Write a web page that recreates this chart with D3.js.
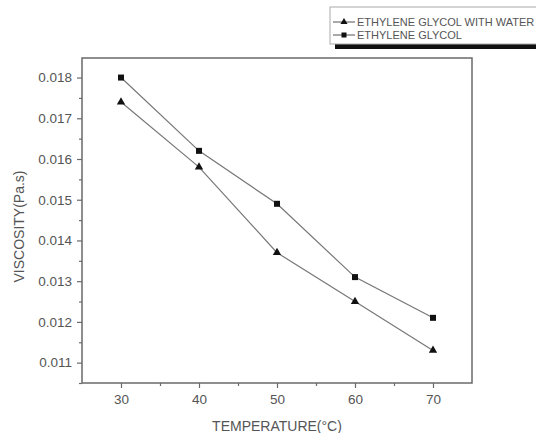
<!DOCTYPE html>
<html>
<head>
<meta charset="utf-8">
<script src="https://cdn.jsdelivr.net/npm/d3@7"></script>
<style>
  body { margin: 0; background: #fff; }
  text { font-family: "Liberation Sans", Arial, sans-serif; }
</style>
</head>
<body>
<div id="chart"></div>
<script>
const temperatures = [30, 40, 50, 60, 70];
const glycolWater = [0.0174, 0.0158, 0.0137, 0.0125, 0.0113];
const glycol = [0.0180, 0.0162, 0.0149, 0.0131, 0.0121];
const xTicks = [30, 40, 50, 60, 70];
const yTicks = [0.011, 0.012, 0.013, 0.014, 0.015, 0.016, 0.017, 0.018];
const seriesNames = ['ETHYLENE GLYCOL WITH WATER', 'ETHYLENE GLYCOL'];

const W = 536, H = 433;
const margin = { top: 58, right: 64, bottom: 50, left: 82 };
const width = W - margin.left - margin.right;
const height = H - margin.top - margin.bottom;

const root = d3.select('#chart')
  .append('svg')
  .attr('width', W)
  .attr('height', H);

const svg = root.append('g')
  .attr('transform', `translate(${margin.left},${margin.top})`);

const x = d3.scaleLinear().domain([25, 75]).range([0, width]);
const y = d3.scaleLinear().domain([0.0105, 0.01848]).range([height, 0]);

const axisColor = '#6a6a6a';
const textColor = '#555';

// minor ticks
svg.append('g')
  .attr('transform', `translate(0,${height})`)
  .call(d3.axisBottom(x).tickValues([35, 45, 55, 65]).tickSize(3).tickFormat(''))
  .call((g) => g.select('.domain').remove());
svg.append('g')
  .call(d3.axisLeft(y).tickValues(d3.range(0.0105, 0.0185, 0.001)).tickSize(3).tickFormat(''))
  .call((g) => g.select('.domain').remove());

// X axis
svg.append('g')
  .attr('transform', `translate(0,${height})`)
  .call(d3.axisBottom(x).tickValues(xTicks).tickSize(5).tickPadding(6))
  .call((g) => g.select('.domain').remove())
  .selectAll('text')
  .style('font-size', '13.5px')
  .attr('fill', textColor);

// Y axis
svg.append('g')
  .call(d3.axisLeft(y).tickValues(yTicks).tickSize(5).tickPadding(5).tickFormat(d3.format('.3f')))
  .call((g) => g.select('.domain').remove())
  .selectAll('text')
  .style('font-size', '13.5px')
  .attr('fill', textColor);

svg.selectAll('.tick line').attr('stroke', axisColor).attr('stroke-width', 1.2);

// frame
svg.append('rect')
  .attr('width', width)
  .attr('height', height)
  .attr('fill', 'none')
  .attr('stroke', axisColor)
  .attr('stroke-width', 1.5);

// axis titles
svg.append('text')
  .attr('x', 195)
  .attr('y', height + 48)
  .attr('text-anchor', 'middle')
  .attr('fill', textColor)
  .style('font-size', '14px')
  .text('TEMPERATURE(°C)');

svg.append('text')
  .attr('transform', `translate(${-58},${height / 2 + 6}) rotate(-90)`)
  .attr('text-anchor', 'middle')
  .attr('fill', textColor)
  .style('font-size', '14px')
  .text('VISCOSITY(Pa.s)');

// lines
const line = d3.line()
  .x((d, i) => x(temperatures[i]))
  .y((d) => y(d));

[glycolWater, glycol].forEach((vals) => {
  svg.append('path')
    .datum(vals)
    .attr('d', line)
    .attr('fill', 'none')
    .attr('stroke', '#777')
    .attr('stroke-width', 1.2);
});

// markers
const tri = d3.symbol().type(d3.symbolTriangle).size(30);
svg.append('g')
  .selectAll('path')
  .data(glycolWater)
  .join('path')
  .attr('d', tri)
  .attr('transform', (d, i) => `translate(${x(temperatures[i])},${y(d)})`)
  .attr('fill', '#111');

svg.append('g')
  .selectAll('rect')
  .data(glycol)
  .join('rect')
  .attr('x', (d, i) => x(temperatures[i]) - 3)
  .attr('y', (d) => y(d) - 3)
  .attr('width', 6)
  .attr('height', 6)
  .attr('fill', '#111');

// legend
const legend = root.append('g').attr('transform', 'translate(330,7)');
legend.append('rect')
  .attr('x', 5)
  .attr('y', 37)
  .attr('width', 220)
  .attr('height', 5)
  .attr('fill', '#111');
legend.append('rect')
  .attr('width', 220)
  .attr('height', 37)
  .attr('fill', '#fff')
  .attr('stroke', '#aaa')
  .attr('stroke-width', 1);

seriesNames.forEach((name, i) => {
  const ly = 15 + i * 13;
  legend.append('line')
    .attr('x1', 3).attr('x2', 25)
    .attr('y1', ly).attr('y2', ly)
    .attr('stroke', '#555')
    .attr('stroke-width', 1);
  if (i === 0) {
    legend.append('path')
      .attr('d', d3.symbol().type(d3.symbolTriangle).size(22))
      .attr('transform', `translate(14,${ly})`)
      .attr('fill', '#111');
  } else {
    legend.append('rect')
      .attr('x', 11.5).attr('y', ly - 2.5)
      .attr('width', 5).attr('height', 5)
      .attr('fill', '#111');
  }
  legend.append('text')
    .attr('x', 27)
    .attr('y', ly + 4)
    .attr('fill', '#555')
    .style('font-size', '11px')
    .text(name);
});
</script>
</body>
</html>
